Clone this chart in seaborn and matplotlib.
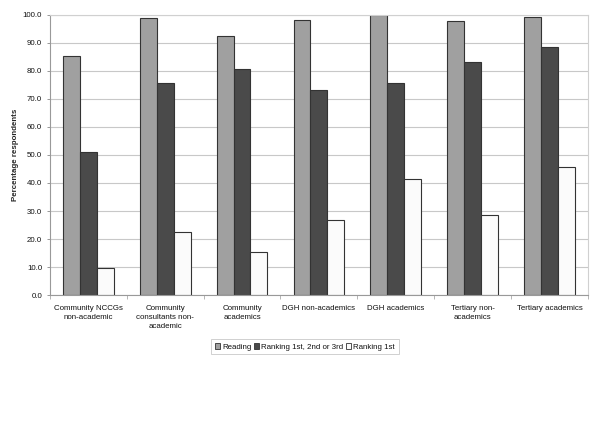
import matplotlib
matplotlib.use("Agg")
import matplotlib.pyplot as plt
import seaborn as sns
import pandas as pd
import numpy as np
from matplotlib.patches import Patch

categories = ["Community NCCGs\nnon-academic", "Community\nconsultants non-\nacademic",
              "Community\nacademics", "DGH non-academics", "DGH academics",
              "Tertiary non-\nacademics", "Tertiary academics"]
series = ["Reading", "Ranking 1st, 2nd or 3rd", "Ranking 1st"]
reading = [85.2, 98.8, 92.6, 98.0, 100.0, 97.9, 99.2]
rank123 = [51.2, 75.7, 80.8, 73.1, 75.8, 83.3, 88.4]
rank1 = [9.5, 22.6, 15.5, 26.7, 41.6, 28.7, 45.6]
yticks = [0, 10, 20, 30, 40, 50, 60, 70, 80, 90, 100]

colors = ["#a0a0a0", "#4a4a4a", "#fbfbfb"]

df = pd.DataFrame({
    "category": categories * 3,
    "series": [series[0]] * 7 + [series[1]] * 7 + [series[2]] * 7,
    "value": reading + rank123 + rank1,
})

sns.set_theme(style="white")
plt.rcParams["font.family"] = ["Liberation Sans", "DejaVu Sans"]
FS = 5.7

fig = plt.figure(figsize=(6.0, 4.24), dpi=100)
ax = fig.add_axes([0.083, 0.304, 0.897, 0.661])

sns.barplot(data=df, x="category", y="value", hue="series", order=categories,
            hue_order=series, palette=colors, width=0.66, edgecolor="#333333",
            linewidth=0.8, ax=ax, legend=False)

ax.set_ylim(0, 100)
ax.set_xlim(-0.5, 6.5)
ax.set_yticks(yticks)
ax.set_yticklabels([f"{v:.1f}" for v in yticks], fontsize=FS, color="#111111")
ax.yaxis.grid(True, color="#c8c8c8", linewidth=0.8)
ax.set_axisbelow(True)
ax.tick_params(axis="y", length=2.5, width=0.6, color="#888888", pad=3, left=True)
ax.set_xticks(range(7))
ax.set_xticklabels(categories, fontsize=FS, linespacing=1.45, color="#111111")
ax.tick_params(axis="x", which="major", length=0, pad=7)
ax.set_xticks(np.arange(-0.5, 7, 1.0), minor=True)
ax.tick_params(axis="x", which="minor", length=3, width=0.6, color="#aaaaaa", bottom=True)
ax.set_xlabel("")
ax.set_ylabel("Percentage respondents", fontsize=FS, fontweight="bold", labelpad=3)
for s in ["left", "bottom"]:
    ax.spines[s].set_color("#999999")
    ax.spines[s].set_linewidth(0.8)
for s in ["top", "right"]:
    ax.spines[s].set_color("#d0d0d0")
    ax.spines[s].set_linewidth(0.8)

handles = [Patch(facecolor=c, edgecolor="#333333", linewidth=0.6) for c in colors]
leg = fig.legend(handles, series, loc="center", bbox_to_anchor=(0.508, 0.182),
                 ncol=3, fontsize=FS, frameon=True, fancybox=False,
                 handlelength=0.7, handleheight=0.7, handletextpad=0.25,
                 columnspacing=0.3, borderpad=0.45, edgecolor="#bbbbbb")
leg.get_frame().set_linewidth(0.6)
for t in leg.get_texts():
    t.set_color("#111111")

fig.savefig("out.png", dpi=100, facecolor="white")
